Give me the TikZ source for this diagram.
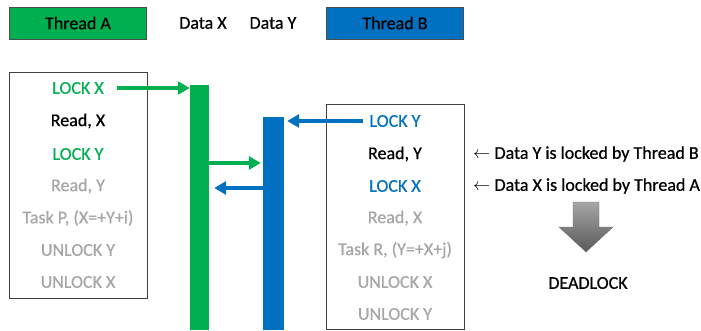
\documentclass[tikz,border=0pt]{standalone}
\usepackage{fontspec}
\setmainfont{Carlito}[FakeBold=0.6]
\usetikzlibrary{arrows.meta}
\definecolor{tgreen}{HTML}{00B050}
\definecolor{tblue}{HTML}{0070C0}
\definecolor{tgray}{HTML}{A6A6A6}
\begin{document}
\begin{tikzpicture}[x=1pt,y=-1pt,
  txt/.style={font=\fontsize{18}{18}\selectfont,inner sep=0pt,anchor=center},
  hdr/.style={draw=black!70,line width=0.6pt,minimum width=137pt,minimum height=32pt,inner sep=0pt,font=\fontsize{18}{18}\selectfont},
  bar/.style={inner sep=0pt,minimum width=19pt,anchor=north},
  arr/.style={line width=3.5pt,-{Triangle[length=12pt,width=13pt]}},
  panel/.style={draw=black!75,line width=0.7pt}]
\useasboundingbox (0,0) rectangle (701,330);
% headers
\node[hdr,fill=tgreen] (ha) at (78,23) {Thread A};
\node[txt] (dx) at (203,23) {Data X};
\node[txt] (dy) at (273,23) {Data Y};
\node[hdr,fill=tblue] (hb) at (395,23) {Thread B};
% panels
\draw[panel] (9,72) rectangle (147,298);
\draw[panel] (326,104) rectangle (464,329);
% left texts
\node[txt,text=tgreen] (a1) at (78,88) {LOCK X};
\node[txt] (a2) at (78,121) {Read, X};
\node[txt,text=tgreen] (a3) at (78,154) {LOCK Y};
\node[txt,text=tgray] (a4) at (78,186) {Read, Y};
\node[txt,text=tgray] (a5) at (78,218) {Task P, (X=+Y+i)};
\node[txt,text=tgray] (a6) at (78,250) {UNLOCK Y};
\node[txt,text=tgray] (a7) at (78,282) {UNLOCK X};
% right texts
\node[txt,text=tblue] (b1) at (395,121) {LOCK Y};
\node[txt] (b2) at (395,154) {Read, Y};
\node[txt,text=tblue] (b3) at (395,186) {LOCK X};
\node[txt,text=tgray] (b4) at (395,218) {Read, X};
\node[txt,text=tgray] (b5) at (395,250) {Task R, (Y=+X+j)};
\node[txt,text=tgray] (b6) at (395,282) {UNLOCK X};
\node[txt,text=tgray] (b7) at (395,314) {UNLOCK Y};
% bars
\node[bar,fill=tgreen,minimum height=245pt] (gx) at (199.5,85) {};
\node[bar,fill=tblue,minimum width=21pt,minimum height=213pt] (by) at (273.5,117) {};
% arrows
\draw[arr,tgreen] (a1.east)+(13,0) coordinate (s1) -- (s1 -| gx.west);
\draw[arr,tgreen] ([yshift=-9pt]gx.east |- a3) coordinate (s2) -- ([xshift=-2pt]s2 -| by.west);
\draw[arr,tblue] ([yshift=-2pt]by.west |- a4) coordinate (s3) -- ([xshift=5pt]s3 -| gx.east);
\draw[arr,tblue] ([xshift=-6pt]b1.west) coordinate (s4) -- ([xshift=3pt]s4 -| by.east);
% annotations
\node[txt,anchor=west] (n1) at (473,154) {$\leftarrow$ Data Y is locked by Thread B};
\node[txt,anchor=west] (n2) at (473,186) {$\leftarrow$ Data X is locked by Thread A};
% gray down arrow
\shade[top color=black!35,bottom color=black!65,draw=black!55,line width=0.4pt]
  (573,202) -- (599,202) -- (599,227) -- (613,227) -- (586,252) -- (559,227) -- (573,227) -- cycle;
\node[txt] (dl) at (588,283) {DEADLOCK};
\end{tikzpicture}
\end{document}
